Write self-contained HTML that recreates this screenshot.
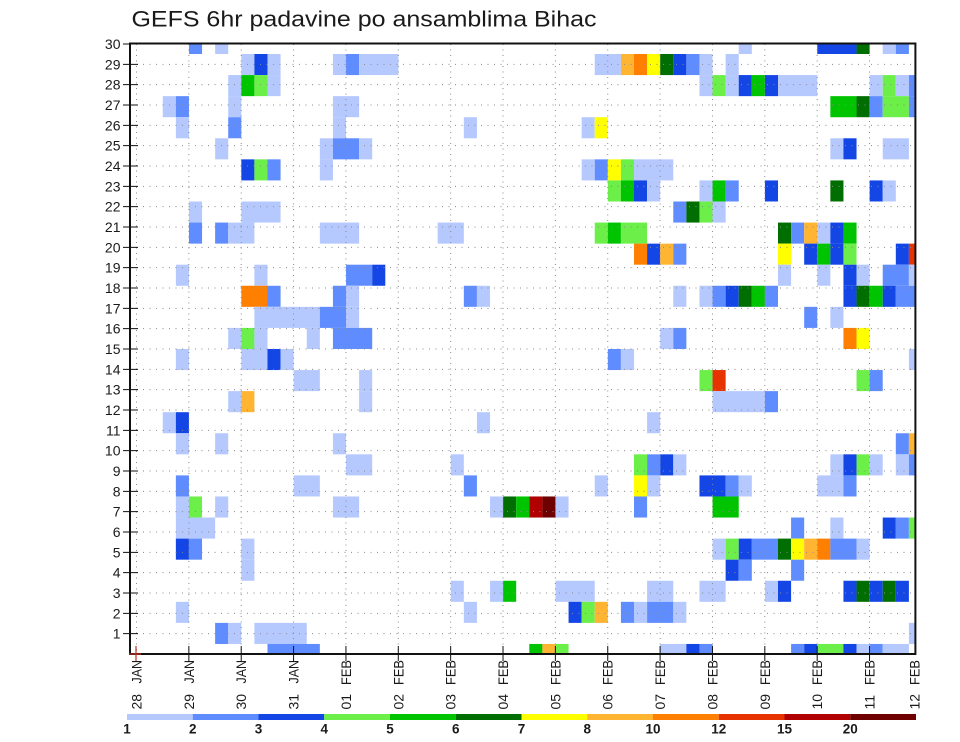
<!DOCTYPE html>
<html>
<head>
<meta charset="utf-8">
<style>
html,body{margin:0;padding:0;background:#fff;}
svg{display:block;}
.L{fill:#b5c9ff}.M{fill:#5f8dff}.D{fill:#1446e6}.LG{fill:#6cef48}.G{fill:#00c400}.DG{fill:#006e00}
.Y{fill:#ffff00}.O{fill:#ffb432}.OR{fill:#ff7f00}.R{fill:#e63300}.R2{fill:#b00000}.R3{fill:#6e0000}
text{font-family:"Liberation Sans",sans-serif;fill:#1a1a1a;}
</style>
</head>
<body>
<svg width="960" height="742" viewBox="0 0 960 742" xmlns="http://www.w3.org/2000/svg">
<rect x="0" y="0" width="960" height="742" fill="#fff"/>
<text x="131.5" y="26.5" font-size="22" textLength="465" lengthAdjust="spacingAndGlyphs">GEFS 6hr padavine po ansamblima Bihac</text>

<g transform="translate(123.5 54) scale(13.09 21.07)">
<!-- m=0 -->
<rect class="M" x="5" y="-0.4746" width="1" height="0.4746"/>
<rect class="L" x="7" y="-0.4746" width="1" height="0.4746"/>
<rect class="L" x="47" y="-0.4746" width="1" height="0.4746"/>
<rect class="D" x="53" y="-0.4746" width="3" height="0.4746"/>
<rect class="DG" x="56" y="-0.4746" width="1" height="0.4746"/>
<rect class="L" x="58" y="-0.4746" width="1" height="0.4746"/>
<rect class="M" x="59" y="-0.4746" width="1" height="0.4746"/>
<!-- m=1 -->
<rect class="L" x="9" y="0" width="1" height="1"/>
<rect class="D" x="10" y="0" width="1" height="1"/>
<rect class="L" x="11" y="0" width="1" height="1"/>
<rect class="L" x="16" y="0" width="1" height="1"/>
<rect class="M" x="17" y="0" width="1" height="1"/>
<rect class="L" x="18" y="0" width="3" height="1"/>
<rect class="L" x="36" y="0" width="2" height="1"/>
<rect class="O" x="38" y="0" width="1" height="1"/>
<rect class="OR" x="39" y="0" width="1" height="1"/>
<rect class="Y" x="40" y="0" width="1" height="1"/>
<rect class="DG" x="41" y="0" width="1" height="1"/>
<rect class="D" x="42" y="0" width="1" height="1"/>
<rect class="M" x="43" y="0" width="1" height="1"/>
<rect class="L" x="44" y="0" width="1" height="1"/>
<rect class="L" x="46" y="0" width="1" height="1"/>
<!-- m=2 -->
<rect class="L" x="8" y="1" width="1" height="1"/>
<rect class="G" x="9" y="1" width="1" height="1"/>
<rect class="LG" x="10" y="1" width="1" height="1"/>
<rect class="L" x="11" y="1" width="1" height="1"/>
<rect class="L" x="44" y="1" width="1" height="1"/>
<rect class="LG" x="45" y="1" width="1" height="1"/>
<rect class="L" x="46" y="1" width="1" height="1"/>
<rect class="D" x="47" y="1" width="1" height="1"/>
<rect class="G" x="48" y="1" width="1" height="1"/>
<rect class="D" x="49" y="1" width="1" height="1"/>
<rect class="L" x="50" y="1" width="3" height="1"/>
<rect class="L" x="57" y="1" width="1" height="1"/>
<rect class="LG" x="58" y="1" width="1" height="1"/>
<rect class="L" x="59" y="1" width="1" height="1"/>
<rect class="M" x="60" y="1" width="0.5" height="1"/>
<!-- m=3 -->
<rect class="L" x="3" y="2" width="1" height="1"/>
<rect class="M" x="4" y="2" width="1" height="1"/>
<rect class="L" x="8" y="2" width="1" height="1"/>
<rect class="L" x="16" y="2" width="2" height="1"/>
<rect class="G" x="54" y="2" width="2" height="1"/>
<rect class="DG" x="56" y="2" width="1" height="1"/>
<rect class="M" x="57" y="2" width="1" height="1"/>
<rect class="LG" x="58" y="2" width="2" height="1"/>
<rect class="M" x="60" y="2" width="0.5" height="1"/>
<!-- m=4 -->
<rect class="L" x="4" y="3" width="1" height="1"/>
<rect class="M" x="8" y="3" width="1" height="1"/>
<rect class="L" x="16" y="3" width="1" height="1"/>
<rect class="L" x="26" y="3" width="1" height="1"/>
<rect class="L" x="35" y="3" width="1" height="1"/>
<rect class="Y" x="36" y="3" width="1" height="1"/>
<!-- m=5 -->
<rect class="L" x="7" y="4" width="1" height="1"/>
<rect class="L" x="15" y="4" width="1" height="1"/>
<rect class="M" x="16" y="4" width="2" height="1"/>
<rect class="L" x="18" y="4" width="1" height="1"/>
<rect class="L" x="54" y="4" width="1" height="1"/>
<rect class="D" x="55" y="4" width="1" height="1"/>
<rect class="L" x="58" y="4" width="2" height="1"/>
<!-- m=6 -->
<rect class="D" x="9" y="5" width="1" height="1"/>
<rect class="LG" x="10" y="5" width="1" height="1"/>
<rect class="M" x="11" y="5" width="1" height="1"/>
<rect class="L" x="15" y="5" width="1" height="1"/>
<rect class="L" x="35" y="5" width="1" height="1"/>
<rect class="M" x="36" y="5" width="1" height="1"/>
<rect class="Y" x="37" y="5" width="1" height="1"/>
<rect class="LG" x="38" y="5" width="1" height="1"/>
<rect class="L" x="39" y="5" width="3" height="1"/>
<!-- m=7 -->
<rect class="LG" x="37" y="6" width="1" height="1"/>
<rect class="G" x="38" y="6" width="1" height="1"/>
<rect class="D" x="39" y="6" width="1" height="1"/>
<rect class="L" x="40" y="6" width="1" height="1"/>
<rect class="L" x="44" y="6" width="1" height="1"/>
<rect class="G" x="45" y="6" width="1" height="1"/>
<rect class="M" x="46" y="6" width="1" height="1"/>
<rect class="D" x="49" y="6" width="1" height="1"/>
<rect class="DG" x="54" y="6" width="1" height="1"/>
<rect class="D" x="57" y="6" width="1" height="1"/>
<rect class="L" x="58" y="6" width="1" height="1"/>
<!-- m=8 -->
<rect class="L" x="5" y="7" width="1" height="1"/>
<rect class="L" x="9" y="7" width="3" height="1"/>
<rect class="M" x="42" y="7" width="1" height="1"/>
<rect class="DG" x="43" y="7" width="1" height="1"/>
<rect class="LG" x="44" y="7" width="1" height="1"/>
<rect class="L" x="45" y="7" width="1" height="1"/>
<!-- m=9 -->
<rect class="M" x="5" y="8" width="1" height="1"/>
<rect class="M" x="7" y="8" width="1" height="1"/>
<rect class="L" x="8" y="8" width="2" height="1"/>
<rect class="L" x="15" y="8" width="3" height="1"/>
<rect class="L" x="24" y="8" width="2" height="1"/>
<rect class="LG" x="36" y="8" width="1" height="1"/>
<rect class="G" x="37" y="8" width="1" height="1"/>
<rect class="LG" x="38" y="8" width="2" height="1"/>
<rect class="DG" x="50" y="8" width="1" height="1"/>
<rect class="M" x="51" y="8" width="1" height="1"/>
<rect class="O" x="52" y="8" width="1" height="1"/>
<rect class="L" x="53" y="8" width="1" height="1"/>
<rect class="D" x="54" y="8" width="1" height="1"/>
<rect class="G" x="55" y="8" width="1" height="1"/>
<!-- m=10 -->
<rect class="OR" x="39" y="9" width="1" height="1"/>
<rect class="D" x="40" y="9" width="1" height="1"/>
<rect class="O" x="41" y="9" width="1" height="1"/>
<rect class="M" x="42" y="9" width="1" height="1"/>
<rect class="Y" x="50" y="9" width="1" height="1"/>
<rect class="D" x="52" y="9" width="1" height="1"/>
<rect class="G" x="53" y="9" width="1" height="1"/>
<rect class="D" x="54" y="9" width="1" height="1"/>
<rect class="LG" x="55" y="9" width="1" height="1"/>
<rect class="D" x="59" y="9" width="1" height="1"/>
<rect class="R" x="60" y="9" width="0.5" height="1"/>
<!-- m=11 -->
<rect class="L" x="4" y="10" width="1" height="1"/>
<rect class="L" x="10" y="10" width="1" height="1"/>
<rect class="M" x="17" y="10" width="2" height="1"/>
<rect class="D" x="19" y="10" width="1" height="1"/>
<rect class="L" x="50" y="10" width="1" height="1"/>
<rect class="L" x="53" y="10" width="1" height="1"/>
<rect class="D" x="55" y="10" width="1" height="1"/>
<rect class="L" x="56" y="10" width="1" height="1"/>
<rect class="M" x="58" y="10" width="2" height="1"/>
<rect class="L" x="60" y="10" width="0.5" height="1"/>
<!-- m=12 -->
<rect class="OR" x="9" y="11" width="2" height="1"/>
<rect class="M" x="11" y="11" width="1" height="1"/>
<rect class="M" x="16" y="11" width="1" height="1"/>
<rect class="L" x="17" y="11" width="1" height="1"/>
<rect class="M" x="26" y="11" width="1" height="1"/>
<rect class="L" x="27" y="11" width="1" height="1"/>
<rect class="L" x="42" y="11" width="1" height="1"/>
<rect class="L" x="44" y="11" width="1" height="1"/>
<rect class="M" x="45" y="11" width="1" height="1"/>
<rect class="D" x="46" y="11" width="1" height="1"/>
<rect class="DG" x="47" y="11" width="1" height="1"/>
<rect class="G" x="48" y="11" width="1" height="1"/>
<rect class="M" x="49" y="11" width="1" height="1"/>
<rect class="D" x="55" y="11" width="1" height="1"/>
<rect class="DG" x="56" y="11" width="1" height="1"/>
<rect class="G" x="57" y="11" width="1" height="1"/>
<rect class="D" x="58" y="11" width="1" height="1"/>
<rect class="M" x="59" y="11" width="1.5" height="1"/>
<!-- m=13 -->
<rect class="L" x="10" y="12" width="5" height="1"/>
<rect class="M" x="15" y="12" width="2" height="1"/>
<rect class="L" x="17" y="12" width="1" height="1"/>
<rect class="M" x="52" y="12" width="1" height="1"/>
<rect class="L" x="54" y="12" width="1" height="1"/>
<!-- m=14 -->
<rect class="L" x="8" y="13" width="1" height="1"/>
<rect class="LG" x="9" y="13" width="1" height="1"/>
<rect class="L" x="10" y="13" width="1" height="1"/>
<rect class="L" x="14" y="13" width="1" height="1"/>
<rect class="M" x="16" y="13" width="3" height="1"/>
<rect class="L" x="41" y="13" width="1" height="1"/>
<rect class="M" x="42" y="13" width="1" height="1"/>
<rect class="OR" x="55" y="13" width="1" height="1"/>
<rect class="Y" x="56" y="13" width="1" height="1"/>
<!-- m=15 -->
<rect class="L" x="4" y="14" width="1" height="1"/>
<rect class="L" x="9" y="14" width="2" height="1"/>
<rect class="D" x="11" y="14" width="1" height="1"/>
<rect class="L" x="12" y="14" width="1" height="1"/>
<rect class="M" x="37" y="14" width="1" height="1"/>
<rect class="L" x="38" y="14" width="1" height="1"/>
<rect class="L" x="60" y="14" width="0.5" height="1"/>
<!-- m=16 -->
<rect class="L" x="13" y="15" width="2" height="1"/>
<rect class="L" x="18" y="15" width="1" height="1"/>
<rect class="LG" x="44" y="15" width="1" height="1"/>
<rect class="R" x="45" y="15" width="1" height="1"/>
<rect class="LG" x="56" y="15" width="1" height="1"/>
<rect class="M" x="57" y="15" width="1" height="1"/>
<!-- m=17 -->
<rect class="L" x="8" y="16" width="1" height="1"/>
<rect class="O" x="9" y="16" width="1" height="1"/>
<rect class="L" x="18" y="16" width="1" height="1"/>
<rect class="L" x="45" y="16" width="4" height="1"/>
<rect class="M" x="49" y="16" width="1" height="1"/>
<!-- m=18 -->
<rect class="L" x="3" y="17" width="1" height="1"/>
<rect class="D" x="4" y="17" width="1" height="1"/>
<rect class="L" x="27" y="17" width="1" height="1"/>
<rect class="L" x="40" y="17" width="1" height="1"/>
<!-- m=19 -->
<rect class="L" x="4" y="18" width="1" height="1"/>
<rect class="L" x="7" y="18" width="1" height="1"/>
<rect class="L" x="16" y="18" width="1" height="1"/>
<rect class="M" x="59" y="18" width="1" height="1"/>
<rect class="O" x="60" y="18" width="0.5" height="1"/>
<!-- m=20 -->
<rect class="L" x="17" y="19" width="2" height="1"/>
<rect class="L" x="25" y="19" width="1" height="1"/>
<rect class="LG" x="39" y="19" width="1" height="1"/>
<rect class="M" x="40" y="19" width="1" height="1"/>
<rect class="D" x="41" y="19" width="1" height="1"/>
<rect class="L" x="42" y="19" width="1" height="1"/>
<rect class="L" x="54" y="19" width="1" height="1"/>
<rect class="D" x="55" y="19" width="1" height="1"/>
<rect class="LG" x="56" y="19" width="1" height="1"/>
<rect class="L" x="57" y="19" width="1" height="1"/>
<rect class="L" x="59" y="19" width="1" height="1"/>
<rect class="M" x="60" y="19" width="0.5" height="1"/>
<!-- m=21 -->
<rect class="M" x="4" y="20" width="1" height="1"/>
<rect class="L" x="13" y="20" width="2" height="1"/>
<rect class="M" x="26" y="20" width="1" height="1"/>
<rect class="L" x="36" y="20" width="1" height="1"/>
<rect class="Y" x="39" y="20" width="1" height="1"/>
<rect class="L" x="40" y="20" width="1" height="1"/>
<rect class="D" x="44" y="20" width="2" height="1"/>
<rect class="M" x="46" y="20" width="1" height="1"/>
<rect class="L" x="47" y="20" width="1" height="1"/>
<rect class="L" x="53" y="20" width="2" height="1"/>
<rect class="M" x="55" y="20" width="1" height="1"/>
<!-- m=22 -->
<rect class="L" x="4" y="21" width="1" height="1"/>
<rect class="LG" x="5" y="21" width="1" height="1"/>
<rect class="L" x="7" y="21" width="1" height="1"/>
<rect class="L" x="16" y="21" width="2" height="1"/>
<rect class="L" x="28" y="21" width="1" height="1"/>
<rect class="DG" x="29" y="21" width="1" height="1"/>
<rect class="G" x="30" y="21" width="1" height="1"/>
<rect class="R2" x="31" y="21" width="1" height="1"/>
<rect class="R3" x="32" y="21" width="1" height="1"/>
<rect class="L" x="33" y="21" width="1" height="1"/>
<rect class="M" x="39" y="21" width="1" height="1"/>
<rect class="G" x="45" y="21" width="2" height="1"/>
<!-- m=23 -->
<rect class="L" x="4" y="22" width="3" height="1"/>
<rect class="M" x="51" y="22" width="1" height="1"/>
<rect class="L" x="54" y="22" width="1" height="1"/>
<rect class="D" x="58" y="22" width="1" height="1"/>
<rect class="M" x="59" y="22" width="1" height="1"/>
<rect class="LG" x="60" y="22" width="0.5" height="1"/>
<!-- m=24 -->
<rect class="D" x="4" y="23" width="1" height="1"/>
<rect class="M" x="5" y="23" width="1" height="1"/>
<rect class="L" x="9" y="23" width="1" height="1"/>
<rect class="L" x="45" y="23" width="1" height="1"/>
<rect class="LG" x="46" y="23" width="1" height="1"/>
<rect class="D" x="47" y="23" width="1" height="1"/>
<rect class="M" x="48" y="23" width="2" height="1"/>
<rect class="DG" x="50" y="23" width="1" height="1"/>
<rect class="Y" x="51" y="23" width="1" height="1"/>
<rect class="O" x="52" y="23" width="1" height="1"/>
<rect class="OR" x="53" y="23" width="1" height="1"/>
<rect class="M" x="54" y="23" width="2" height="1"/>
<rect class="L" x="56" y="23" width="1" height="1"/>
<!-- m=25 -->
<rect class="L" x="9" y="24" width="1" height="1"/>
<rect class="D" x="46" y="24" width="1" height="1"/>
<rect class="M" x="47" y="24" width="1" height="1"/>
<rect class="M" x="51" y="24" width="1" height="1"/>
<!-- m=26 -->
<rect class="L" x="25" y="25" width="1" height="1"/>
<rect class="L" x="28" y="25" width="1" height="1"/>
<rect class="G" x="29" y="25" width="1" height="1"/>
<rect class="L" x="33" y="25" width="3" height="1"/>
<rect class="L" x="40" y="25" width="2" height="1"/>
<rect class="L" x="44" y="25" width="2" height="1"/>
<rect class="L" x="49" y="25" width="1" height="1"/>
<rect class="D" x="50" y="25" width="1" height="1"/>
<rect class="D" x="55" y="25" width="1" height="1"/>
<rect class="DG" x="56" y="25" width="1" height="1"/>
<rect class="D" x="57" y="25" width="1" height="1"/>
<rect class="DG" x="58" y="25" width="1" height="1"/>
<rect class="D" x="59" y="25" width="1" height="1"/>
<!-- m=27 -->
<rect class="L" x="4" y="26" width="1" height="1"/>
<rect class="L" x="26" y="26" width="1" height="1"/>
<rect class="D" x="34" y="26" width="1" height="1"/>
<rect class="LG" x="35" y="26" width="1" height="1"/>
<rect class="O" x="36" y="26" width="1" height="1"/>
<rect class="M" x="38" y="26" width="1" height="1"/>
<rect class="L" x="39" y="26" width="1" height="1"/>
<rect class="M" x="40" y="26" width="2" height="1"/>
<rect class="L" x="42" y="26" width="1" height="1"/>
<!-- m=28 -->
<rect class="M" x="7" y="27" width="1" height="1"/>
<rect class="L" x="8" y="27" width="1" height="1"/>
<rect class="L" x="10" y="27" width="4" height="1"/>
<rect class="L" x="60" y="27" width="0.5" height="1"/>
<!-- m=29 -->
<rect class="M" x="11" y="28" width="4" height="0.4746"/>
<rect class="G" x="31" y="28" width="1" height="0.4746"/>
<rect class="O" x="32" y="28" width="1" height="0.4746"/>
<rect class="LG" x="33" y="28" width="1" height="0.4746"/>
<rect class="L" x="41" y="28" width="2" height="0.4746"/>
<rect class="D" x="43" y="28" width="1" height="0.4746"/>
<rect class="M" x="44" y="28" width="1" height="0.4746"/>
<rect class="M" x="51" y="28" width="1" height="0.4746"/>
<rect class="D" x="52" y="28" width="1" height="0.4746"/>
<rect class="LG" x="53" y="28" width="2" height="0.4746"/>
<rect class="D" x="55" y="28" width="1" height="0.4746"/>
<rect class="L" x="56" y="28" width="1" height="0.4746"/>
<rect class="M" x="57" y="28" width="1" height="0.4746"/>
<rect class="L" x="58" y="28" width="2" height="0.4746"/>
</g>

<!-- dotted grid -->
<path fill="none" stroke="#8a8a8a" stroke-width="1" stroke-dasharray="1 5.5"
d="M130 633.67H915 M130 613.33H915 M130 593H915 M130 572.67H915 M130 552.33H915 M130 532H915 M130 511.67H915 M130 491.33H915 M130 471H915 M130 450.67H915 M130 430.33H915 M130 410H915 M130 389.67H915 M130 369.33H915 M130 349H915 M130 328.67H915 M130 308.33H915 M130 288H915 M130 267.67H915 M130 247.33H915 M130 227H915 M130 206.67H915 M130 186.33H915 M130 166H915 M130 145.67H915 M130 125.33H915 M130 105H915 M130 84.67H915 M130 64.33H915"/>
<path fill="none" stroke="#8a8a8a" stroke-width="1" stroke-dasharray="1 4.5"
d="M136.5 44V654 M188.86 44V654 M241.22 44V654 M293.58 44V654 M345.94 44V654 M398.3 44V654 M450.66 44V654 M503.02 44V654 M555.38 44V654 M607.74 44V654 M660.1 44V654 M712.46 44V654 M764.82 44V654 M817.18 44V654 M869.54 44V654"/>

<!-- frame -->
<rect x="130" y="43.5" width="785.4" height="610.5" fill="none" stroke="#111" stroke-width="2"/>

<!-- y ticks -->
<path fill="none" stroke="#111" stroke-width="1"
d="M123 633.67H138 M123 613.33H138 M123 593H138 M123 572.67H138 M123 552.33H138 M123 532H138 M123 511.67H138 M123 491.33H138 M123 471H138 M123 450.67H138 M123 430.33H138 M123 410H138 M123 389.67H138 M123 369.33H138 M123 349H138 M123 328.67H138 M123 308.33H138 M123 288H138 M123 267.67H138 M123 247.33H138 M123 227H138 M123 206.67H138 M123 186.33H138 M123 166H138 M123 145.67H138 M123 125.33H138 M123 105H138 M123 84.67H138 M123 64.33H138 M123 44H138"/>
<!-- x ticks -->
<path fill="none" stroke="#111" stroke-width="1"
d="M188.86 646V661 M241.22 646V661 M293.58 646V661 M345.94 646V661 M398.3 646V661 M450.66 646V661 M503.02 646V661 M555.38 646V661 M607.74 646V661 M660.1 646V661 M712.46 646V661 M764.82 646V661 M817.18 646V661 M869.54 646V661"/>
<path fill="none" stroke="#c0302a" stroke-width="1.2" d="M136 646V661 M129 654H141"/>

<!-- y labels -->
<g font-size="14" text-anchor="end">
<text x="120.5" y="638.7">1</text>
<text x="120.5" y="618.3">2</text>
<text x="120.5" y="598">3</text>
<text x="120.5" y="577.7">4</text>
<text x="120.5" y="557.3">5</text>
<text x="120.5" y="537">6</text>
<text x="120.5" y="516.7">7</text>
<text x="120.5" y="496.3">8</text>
<text x="120.5" y="476">9</text>
<text x="120.5" y="455.7">10</text>
<text x="120.5" y="435.3">11</text>
<text x="120.5" y="415">12</text>
<text x="120.5" y="394.7">13</text>
<text x="120.5" y="374.3">14</text>
<text x="120.5" y="354">15</text>
<text x="120.5" y="333.7">16</text>
<text x="120.5" y="313.3">17</text>
<text x="120.5" y="293">18</text>
<text x="120.5" y="272.7">19</text>
<text x="120.5" y="252.3">20</text>
<text x="120.5" y="232">21</text>
<text x="120.5" y="211.7">22</text>
<text x="120.5" y="191.3">23</text>
<text x="120.5" y="171">24</text>
<text x="120.5" y="150.7">25</text>
<text x="120.5" y="130.3">26</text>
<text x="120.5" y="110">27</text>
<text x="120.5" y="89.7">28</text>
<text x="120.5" y="69.3">29</text>
<text x="120.5" y="49">30</text>
</g>

<!-- x labels -->
<g font-size="14">
<text transform="translate(141.5 709.5) rotate(-90)">28</text>
<text transform="translate(141.5 660) rotate(-90)" text-anchor="end" textLength="23.5" lengthAdjust="spacingAndGlyphs">JAN</text>
<text transform="translate(193.86 709.5) rotate(-90)">29</text>
<text transform="translate(193.86 660) rotate(-90)" text-anchor="end" textLength="23.5" lengthAdjust="spacingAndGlyphs">JAN</text>
<text transform="translate(246.22 709.5) rotate(-90)">30</text>
<text transform="translate(246.22 660) rotate(-90)" text-anchor="end" textLength="23.5" lengthAdjust="spacingAndGlyphs">JAN</text>
<text transform="translate(298.58 709.5) rotate(-90)">31</text>
<text transform="translate(298.58 660) rotate(-90)" text-anchor="end" textLength="23.5" lengthAdjust="spacingAndGlyphs">JAN</text>
<text transform="translate(350.94 709.5) rotate(-90)">01</text>
<text transform="translate(350.94 660) rotate(-90)" text-anchor="end" textLength="25" lengthAdjust="spacingAndGlyphs">FEB</text>
<text transform="translate(403.3 709.5) rotate(-90)">02</text>
<text transform="translate(403.3 660) rotate(-90)" text-anchor="end" textLength="25" lengthAdjust="spacingAndGlyphs">FEB</text>
<text transform="translate(455.66 709.5) rotate(-90)">03</text>
<text transform="translate(455.66 660) rotate(-90)" text-anchor="end" textLength="25" lengthAdjust="spacingAndGlyphs">FEB</text>
<text transform="translate(508.02 709.5) rotate(-90)">04</text>
<text transform="translate(508.02 660) rotate(-90)" text-anchor="end" textLength="25" lengthAdjust="spacingAndGlyphs">FEB</text>
<text transform="translate(560.38 709.5) rotate(-90)">05</text>
<text transform="translate(560.38 660) rotate(-90)" text-anchor="end" textLength="25" lengthAdjust="spacingAndGlyphs">FEB</text>
<text transform="translate(612.74 709.5) rotate(-90)">06</text>
<text transform="translate(612.74 660) rotate(-90)" text-anchor="end" textLength="25" lengthAdjust="spacingAndGlyphs">FEB</text>
<text transform="translate(665.1 709.5) rotate(-90)">07</text>
<text transform="translate(665.1 660) rotate(-90)" text-anchor="end" textLength="25" lengthAdjust="spacingAndGlyphs">FEB</text>
<text transform="translate(717.46 709.5) rotate(-90)">08</text>
<text transform="translate(717.46 660) rotate(-90)" text-anchor="end" textLength="25" lengthAdjust="spacingAndGlyphs">FEB</text>
<text transform="translate(769.82 709.5) rotate(-90)">09</text>
<text transform="translate(769.82 660) rotate(-90)" text-anchor="end" textLength="25" lengthAdjust="spacingAndGlyphs">FEB</text>
<text transform="translate(822.18 709.5) rotate(-90)">10</text>
<text transform="translate(822.18 660) rotate(-90)" text-anchor="end" textLength="25" lengthAdjust="spacingAndGlyphs">FEB</text>
<text transform="translate(874.54 709.5) rotate(-90)">11</text>
<text transform="translate(874.54 660) rotate(-90)" text-anchor="end" textLength="25" lengthAdjust="spacingAndGlyphs">FEB</text>
<text transform="translate(919.5 709.5) rotate(-90)">12</text>
<text transform="translate(919.5 660) rotate(-90)" text-anchor="end" textLength="25" lengthAdjust="spacingAndGlyphs">FEB</text>
</g>

<!-- legend -->
<g>
<rect class="L" x="127" y="714" width="65.75" height="6"/>
<rect class="M" x="192.75" y="714" width="65.75" height="6"/>
<rect class="D" x="258.5" y="714" width="65.75" height="6"/>
<rect class="LG" x="324.25" y="714" width="65.75" height="6"/>
<rect class="G" x="390" y="714" width="65.75" height="6"/>
<rect class="DG" x="455.75" y="714" width="65.75" height="6"/>
<rect class="Y" x="521.5" y="714" width="65.75" height="6"/>
<rect class="O" x="587.25" y="714" width="65.75" height="6"/>
<rect class="OR" x="653" y="714" width="65.75" height="6"/>
<rect class="R" x="718.75" y="714" width="65.75" height="6"/>
<rect class="R2" x="784.5" y="714" width="65.75" height="6"/>
<rect class="R3" x="850.25" y="714" width="65.75" height="6"/>
</g>
<g font-size="13.5" font-weight="bold" text-anchor="middle">
<text x="127" y="733.5">1</text>
<text x="192.75" y="733.5">2</text>
<text x="258.5" y="733.5">3</text>
<text x="324.25" y="733.5">4</text>
<text x="390" y="733.5">5</text>
<text x="455.75" y="733.5">6</text>
<text x="521.5" y="733.5">7</text>
<text x="587.25" y="733.5">8</text>
<text x="653" y="733.5">10</text>
<text x="718.75" y="733.5">12</text>
<text x="784.5" y="733.5">15</text>
<text x="850.25" y="733.5">20</text>
</g>
</svg>
</body>
</html>
